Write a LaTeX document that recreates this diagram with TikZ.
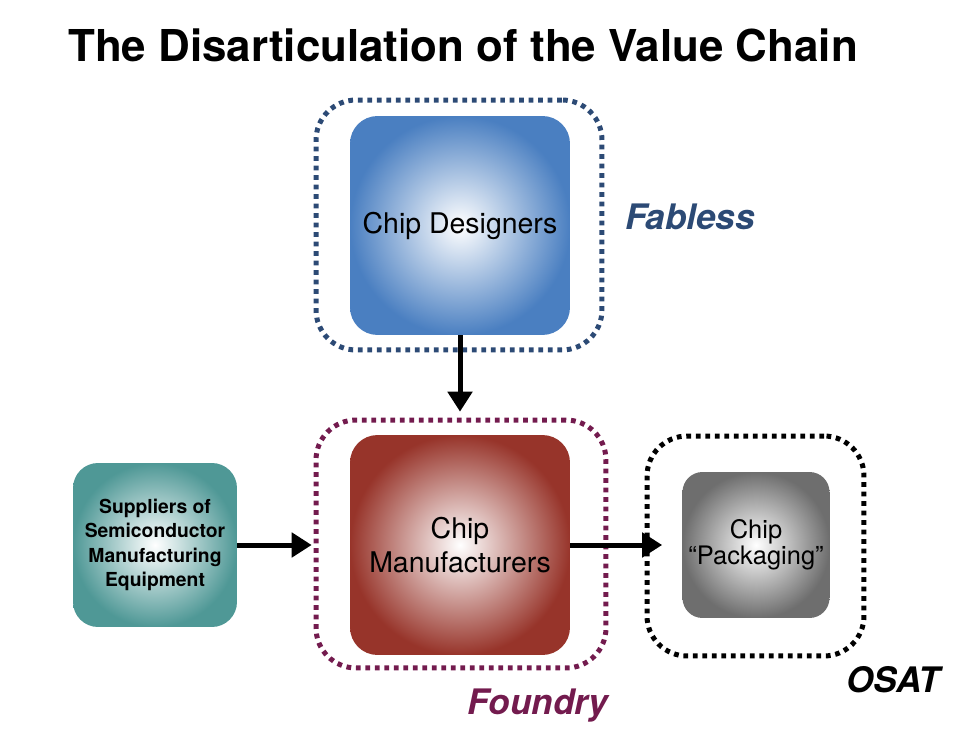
\documentclass[tikz,border=0pt]{standalone}
\usepackage{fontspec}
\setmainfont{TeX Gyre Heros}
\usepackage{tikz}
\usetikzlibrary{arrows.meta,positioning}
\usepackage{xcolor}

\definecolor{fabblue}{HTML}{2C4A75}
\definecolor{fndred}{HTML}{731B4E}
\definecolor{desblue}{HTML}{4A7FC1}
\definecolor{mfrred}{HTML}{97342A}
\definecolor{supteal}{HTML}{4F9896}
\definecolor{pkggray}{HTML}{6E6E6E}

\tikzset{
  stage/.style={rounded corners=0.55cm, align=center, text=black,
    inner color=white, outer color=#1},
  group/.style={draw=#1, line width=0.1cm, dash pattern=on 0.095cm off 0.095cm,
    rounded corners=0.8cm, outer sep=0pt},
  tag/.style={font=\bfseries\itshape\fontsize{20}{24}\selectfont, text=#1},
  flow/.style={-{Triangle[length=0.4cm,width=0.48cm]}, line width=0.1cm}
}

\begin{document}
\begin{tikzpicture}[x=0.02cm,y=-0.02cm]
\useasboundingbox (0,0) rectangle (959,749);

% title
\node[anchor=base west, font=\bfseries\fontsize{25}{30}\selectfont] (title) at (62,62)
  {The Disarticulation of the Value Chain};

% dotted groups
\node[group=fabblue, minimum width=5.72cm, minimum height=5cm] (fabless) at (459,225) {};
\node[group=fndred, minimum width=5.8cm, minimum height=4.96cm] (foundry) at (461,544) {};
\node[group=black, minimum width=4.34cm, minimum height=4.4cm] (osat) at (755.5,546) {};

% stages
\node[stage=desblue, minimum width=4.4cm, minimum height=4.38cm,
  font=\fontsize{16.2}{19}\selectfont] (des) at (460,225.5) {Chip Designers};
\node[stage=mfrred, minimum width=4.4cm, minimum height=4.4cm,
  font=\fontsize{16.2}{19}\selectfont] (mfr) at (460,545) {Chip\\Manufacturers};
\node[stage=supteal, minimum width=3.28cm, minimum height=3.28cm, rounded corners=0.5cm,
  font=\bfseries\fontsize{11}{14}\selectfont] (sup) at (155,545)
  {Suppliers of\\Semiconductor\\Manufacturing\\Equipment};
\node[stage=pkggray, minimum width=2.92cm, minimum height=2.92cm, rounded corners=0.4cm,
  font=\fontsize{14.5}{15}\selectfont] (pkg) at (756,545) {Chip\\``Packaging''};

% group labels
\node[tag=fabblue] (fablabel) at (690,217) {Fabless};
\node[tag=fndred] (fndlabel) at (538,706) {Foundry};
\node[tag=black] (osatlabel) at (893,680) {OSAT};

% flows
\draw[flow, shorten >=0.46cm] (des) -- (mfr);
\draw[flow, shorten >=0.76cm] (sup) -- (mfr);
\draw[flow, shorten >=0.4cm] (mfr) -- (pkg);
\end{tikzpicture}
\end{document}
